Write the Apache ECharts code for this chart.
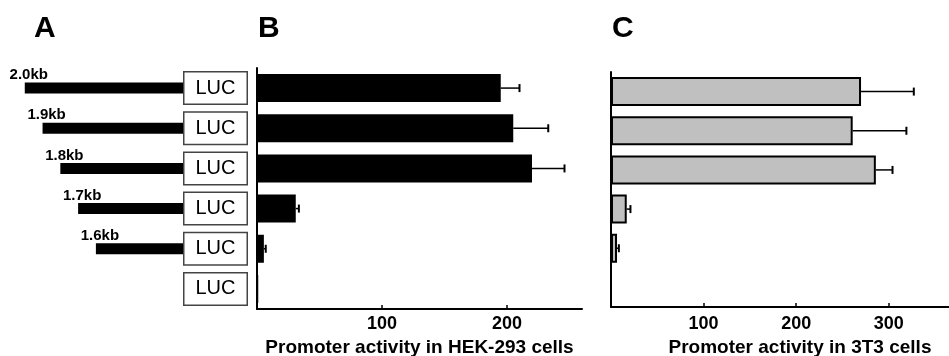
<!DOCTYPE html>
<html>
<head>
<meta charset="utf-8">
<script src="https://cdn.jsdelivr.net/npm/echarts@6/dist/echarts.min.js"></script>
<style>
html, body { margin: 0; padding: 0; background: #fff; }
#chart { width: 949px; height: 356px; }
</style>
</head>
<body>
<div id="chart"></div>
<script>
// constructs, top to bottom
const constructs = ['2.0kb', '1.9kb', '1.8kb', '1.7kb', '1.6kb', 'vector']
const promoterKb = [2.0, 1.9, 1.8, 1.7, 1.6, null]
const lucBox = [1, 1, 1, 1, 1, 1]

const hekMean = [195, 205, 220, 31, 5.5, 1]
const hekErr = [15, 28, 26, 2.5, 1.5, 0]
const t3Mean = [270, 261, 286, 17, 6.5, 0]
const t3Err = [57, 58, 18, 4, 2, 0]

const hekTicks = [100, 200]
const t3Ticks = [100, 200, 300]

const FONT = 'Liberation Sans'

const errorRender = (params, api) => {
  const err = api.value(2)
  if (!err) return
  const p0 = api.coord([api.value(0), api.value(1)])
  const p1 = api.coord([api.value(0) + err, api.value(1)])
  return {
    type: 'group',
    children: [
      { type: 'line', shape: { x1: p0[0], y1: p0[1], x2: p1[0], y2: p1[1] }, style: { stroke: '#000', lineWidth: 1.5 } },
      { type: 'line', shape: { x1: p1[0], y1: p1[1] - 4, x2: p1[0], y2: p1[1] + 4 }, style: { stroke: '#000', lineWidth: 2 } }
    ]
  }
}

const catAxis = (gridIndex, show) => ({
  type: 'category',
  gridIndex,
  inverse: true,
  data: constructs,
  show,
  axisLine: { lineStyle: { color: '#000', width: 2 } },
  axisTick: { inside: false, length: 3, lineStyle: { color: '#000', width: 1.5 } },
  axisLabel: { show: false }
})

const valAxis = (gridIndex, max, ticks, name, nameGap, margin, namePad) => ({
  type: 'value',
  gridIndex,
  min: 0,
  max,
  splitLine: { show: false },
  axisLine: { show: true, lineStyle: { color: '#000', width: 2 } },
  axisTick: { show: true, inside: true, length: 4, customValues: ticks, lineStyle: { color: '#000', width: 1.5 } },
  axisLabel: {
    margin,
    customValues: ticks,
    color: '#000',
    fontFamily: FONT,
    fontWeight: 'bold',
    fontSize: 18
  },
  name,
  nameLocation: 'middle',
  nameGap,
  nameTextStyle: {
    color: '#000',
    fontFamily: FONT,
    fontWeight: 'bold',
    fontSize: 19,
    padding: namePad
  }
})

const chart = echarts.init(document.getElementById('chart'))
chart.setOption({
  animation: false,
  backgroundColor: '#fff',
  title: ['A', 'B', 'C'].map((t, i) => ({
    text: t,
    left: [34, 258, 612][i],
    top: 14,
    padding: 0,
    textStyle: { fontFamily: FONT, fontWeight: 'bold', fontSize: 30, color: '#000' }
  })),
  grid: [
    { left: 7, width: 176, top: 68, height: 241, outerBoundsMode: 'none' },
    { left: 183, width: 65, top: 68, height: 241, outerBoundsMode: 'none' },
    { left: 257, width: 325, top: 68, height: 241, outerBoundsMode: 'none' },
    { left: 611, width: 338, top: 72, height: 235, outerBoundsMode: 'none' }
  ],
  xAxis: [
    { type: 'value', gridIndex: 0, inverse: true, min: 1.11, max: 2.1, show: false },
    { type: 'value', gridIndex: 1, min: 0, max: 1, show: false },
    valAxis(2, 260, hekTicks, 'Promoter activity in HEK-293 cells', 27, 6, 0),
    valAxis(3, 365, t3Ticks, 'Promoter activity in 3T3 cells', 28, 8, [0, 0, 0, 40])
  ],
  yAxis: [
    catAxis(0, false),
    catAxis(1, false),
    catAxis(2, true),
    catAxis(3, true)
  ],
  series: [
    {
      type: 'bar',
      xAxisIndex: 0,
      yAxisIndex: 0,
      data: promoterKb,
      barWidth: 11,
      clip: true,
      itemStyle: { color: '#000' }
    },
    {
      type: 'scatter',
      xAxisIndex: 0,
      yAxisIndex: 0,
      symbolSize: 11,
      itemStyle: { color: '#000', opacity: 0 },
      data: promoterKb.map((v, i) => v == null ? null : { name: constructs[i], value: [v, i] }).filter(Boolean),
      label: {
        show: true,
        position: 'top',
        distance: 0,
        offset: [4, 0],
        formatter: '{b}',
        color: '#000',
        opacity: 1,
        textBorderWidth: 0,
        fontFamily: FONT,
        fontWeight: 'bold',
        fontSize: 15
      }
    },
    {
      type: 'bar',
      xAxisIndex: 1,
      yAxisIndex: 1,
      data: lucBox,
      barWidth: 34,
      itemStyle: { color: '#fff', borderColor: '#444', borderWidth: 1.5 },
      label: {
        show: true,
        position: 'inside',
        formatter: 'LUC',
        color: '#000',
        fontFamily: FONT,
        fontSize: 20
      }
    },
    {
      type: 'bar',
      xAxisIndex: 2,
      yAxisIndex: 2,
      data: hekMean,
      barWidth: 28,
      itemStyle: { color: '#000' }
    },
    {
      type: 'custom',
      xAxisIndex: 2,
      yAxisIndex: 2,
      renderItem: errorRender,
      encode: { x: 0, y: 1 },
      data: hekMean.map((m, i) => [m, i, hekErr[i]]),
      z: 5
    },
    {
      type: 'bar',
      xAxisIndex: 3,
      yAxisIndex: 3,
      data: t3Mean,
      barWidth: 29,
      itemStyle: { color: '#c0c0c0', borderColor: '#000', borderWidth: 2 }
    },
    {
      type: 'custom',
      xAxisIndex: 3,
      yAxisIndex: 3,
      renderItem: errorRender,
      encode: { x: 0, y: 1 },
      data: t3Mean.map((m, i) => [m, i, t3Err[i]]),
      z: 5
    }
  ]
})
</script>
</body>
</html>
